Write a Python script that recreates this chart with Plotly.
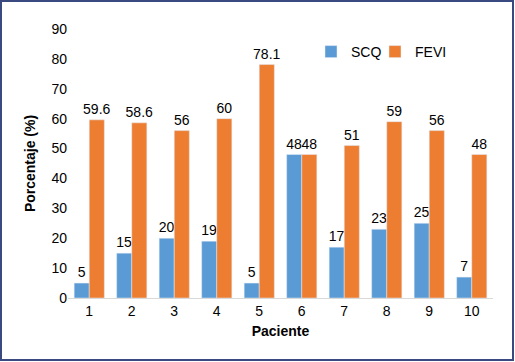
import plotly.graph_objects as go

pacientes = ["1", "2", "3", "4", "5", "6", "7", "8", "9", "10"]
scq = [5, 15, 20, 19, 5, 48, 17, 23, 25, 7]
fevi = [59.6, 58.6, 56, 60, 78.1, 48, 51, 59, 56, 48]
scq_labels = ["5", "15", "20", "19", "5", "48", "17", "23", "25", "7"]
fevi_labels = ["59.6", "58.6", "56", "60", "78.1", "48", "51", "59", "56", "48"]

W, H = 515, 362
ml, mr, mt, mb = 68, 22, 29, 64
pw = W - ml - mr
ph = H - mt - mb

fig = go.Figure()
fig.add_trace(go.Bar(x=pacientes, y=scq, name="SCQ", marker_color="#5B9BD5",
                     text=scq_labels, textposition="outside", cliponaxis=False,
                     textfont=dict(size=14, color="#000000"), legend="legend"))
fig.add_trace(go.Bar(x=pacientes, y=fevi, name="FEVI", marker_color="#ED7D31",
                     text=fevi_labels, textposition="outside", cliponaxis=False,
                     textfont=dict(size=14, color="#000000"), legend="legend2"))

leg_common = dict(orientation="h", xanchor="left", yanchor="middle",
                  bgcolor="rgba(0,0,0,0)", font=dict(size=14), itemwidth=30,
                  borderwidth=0, y=(298 - 52) / ph)

fig.update_layout(
    width=W, height=H,
    margin=dict(l=ml, r=mr, t=mt, b=mb, autoexpand=False),
    paper_bgcolor="white", plot_bgcolor="white",
    font=dict(family="Arial, Liberation Sans, sans-serif", size=14, color="#000000"),
    barmode="group", bargap=0.29, bargroupgap=0,
    showlegend=True,
    legend=dict(x=(311 - ml) / pw, **leg_common),
    legend2=dict(x=(375 - ml) / pw, **leg_common),
    xaxis=dict(title=dict(text="<b>Paciente</b>", font=dict(size=14), standoff=8),
               showline=True, linecolor="#D9D9D9", linewidth=1, ticks="",
               showgrid=False, tickfont=dict(size=14), automargin=False),
    yaxis=dict(title=dict(text="<b>Porcentaje (%)</b>", font=dict(size=14), standoff=12),
               range=[0, 90], dtick=10, showgrid=False, showline=False,
               zeroline=False, ticks="", tickfont=dict(size=14), automargin=False),
    uniformtext=dict(mode="show", minsize=14),
)

fig.add_shape(type="rect", xref="paper", yref="paper",
              x0=(1 - ml) / pw, x1=(513 - ml) / pw,
              y0=-(360 - (H - mb)) / ph, y1=1 + (mt - 1) / ph,
              line=dict(color="#3A4A80", width=2), fillcolor="rgba(0,0,0,0)", layer="below")

fig.write_html("out.html", config={"displayModeBar": False},
               post_script=["document.body.style.margin='0';"])
